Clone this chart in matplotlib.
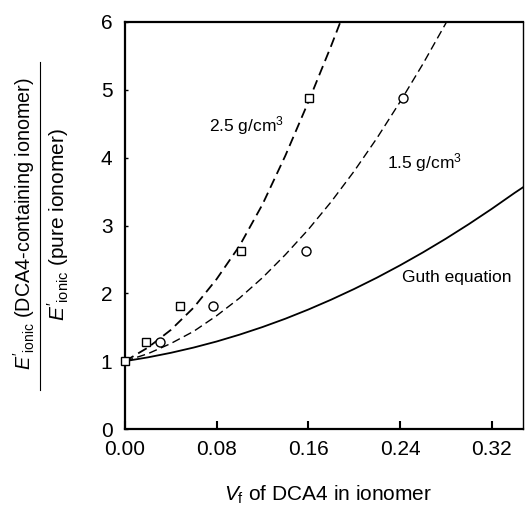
import matplotlib
matplotlib.use("Agg")
import matplotlib.pyplot as plt
from matplotlib.lines import Line2D

plt.rcParams['font.family'] = ['Liberation Sans', 'DejaVu Sans']
plt.rcParams['mathtext.fontset'] = 'custom'
plt.rcParams['mathtext.rm'] = 'Liberation Sans'
plt.rcParams['mathtext.it'] = 'Liberation Sans:italic'
plt.rcParams['mathtext.bf'] = 'Liberation Sans:bold'

# Measured data
sq_x = [0.0, 0.018, 0.048, 0.101, 0.1605]
sq_y = [1.0, 1.28, 1.82, 2.63, 4.88]
ci_x = [0.031, 0.077, 0.158, 0.2425]
ci_y = [1.28, 1.82, 2.63, 4.88]

# Curves
c25_x = [0.0, 0.02, 0.04, 0.06, 0.08, 0.10, 0.12, 0.14, 0.16, 0.18, 0.188]
c25_y = [1.00, 1.20, 1.46, 1.79, 2.21, 2.70, 3.31, 4.03, 4.82, 5.65, 6.0]
c15_x = [0.0, 0.02, 0.04, 0.06, 0.08, 0.10, 0.12, 0.14, 0.16, 0.18, 0.20,
         0.22, 0.24, 0.26, 0.28, 0.2805]
c15_y = [1.00, 1.11, 1.26, 1.44, 1.67, 1.93, 2.23, 2.57, 2.94, 3.35, 3.80,
         4.29, 4.82, 5.38, 5.98, 6.0]
guth_x = [0.0, 0.02, 0.04, 0.06, 0.08, 0.10, 0.12, 0.14, 0.16, 0.18, 0.20,
          0.22, 0.24, 0.26, 0.28, 0.30, 0.32, 0.34, 0.348]
guth_y = [1.00, 1.056, 1.123, 1.201, 1.29, 1.391, 1.503, 1.626, 1.761, 1.907,
          2.064, 2.232, 2.412, 2.603, 2.805, 3.019, 3.244, 3.48, 3.57]

xticks = [0.00, 0.08, 0.16, 0.24, 0.32]
xtick_labels = ["0.00", "0.08", "0.16", "0.24", "0.32"]
yticks = [0, 1, 2, 3, 4, 5, 6]

fig = plt.figure(figsize=(5.25, 5.08), dpi=100)
ax = fig.add_axes([0.238, 0.1555, 0.758, 0.8012])

ax.plot(guth_x, guth_y, color='black', lw=1.3, solid_capstyle='butt')
ax.plot(c25_x, c25_y, color='black', lw=1.3, dashes=(5.5, 3))
ax.plot(c15_x, c15_y, color='black', lw=1.0, dashes=(6, 3.2))
ax.plot(sq_x, sq_y, ls='none', marker='s', ms=5.5, mfc='white', mec='black',
        mew=1.0, zorder=5, clip_on=False)
ax.plot(ci_x, ci_y, ls='none', marker='o', ms=6.5, mfc='white', mec='black',
        mew=1.0, zorder=5)

ax.set_xlim(0, 0.3473)
ax.set_ylim(0, 6)
ax.set_xticks(xticks)
ax.set_xticklabels(xtick_labels)
ax.set_yticks(yticks)
ax.tick_params(axis='x', direction='in', length=6, width=1.5, labelsize=15, pad=8)
ax.tick_params(axis='y', direction='in', length=2.5, width=1.0, labelsize=15, pad=9)
for s in ['left', 'bottom', 'top']:
    ax.spines[s].set_linewidth(1.6)
ax.spines['right'].set_linewidth(1.0)

ax.text(0.0735, 4.47, r"2.5 g/cm$^3$", fontsize=12.5, va='center', ha='left')
ax.text(0.2285, 3.93, r"1.5 g/cm$^3$", fontsize=12.5, va='center', ha='left')
ax.text(0.2415, 2.24, "Guth equation", fontsize=12.5, va='center', ha='left')

fig.text(328/525, 1 - 495/508, r"$V_{\rm f}$ of DCA4 in ionomer", fontsize=15,
         ha='center', va='center')

# y label as a fraction
fig.text(24/525, 1 - 224/508, r"$E'_{\rm ionic}$ (DCA4-containing ionomer)",
         fontsize=14.2, rotation=90, ha='center', va='center')
fig.text(58/525, 1 - 225/508, r"$E'_{\rm ionic}$ (pure ionomer)",
         fontsize=15, rotation=90, ha='center', va='center')
fig.add_artist(Line2D([40/525, 40/525], [1 - 390/508, 1 - 62/508],
                      transform=fig.transFigure, color='black', lw=0.8))

fig.savefig("out.png", dpi=100)
